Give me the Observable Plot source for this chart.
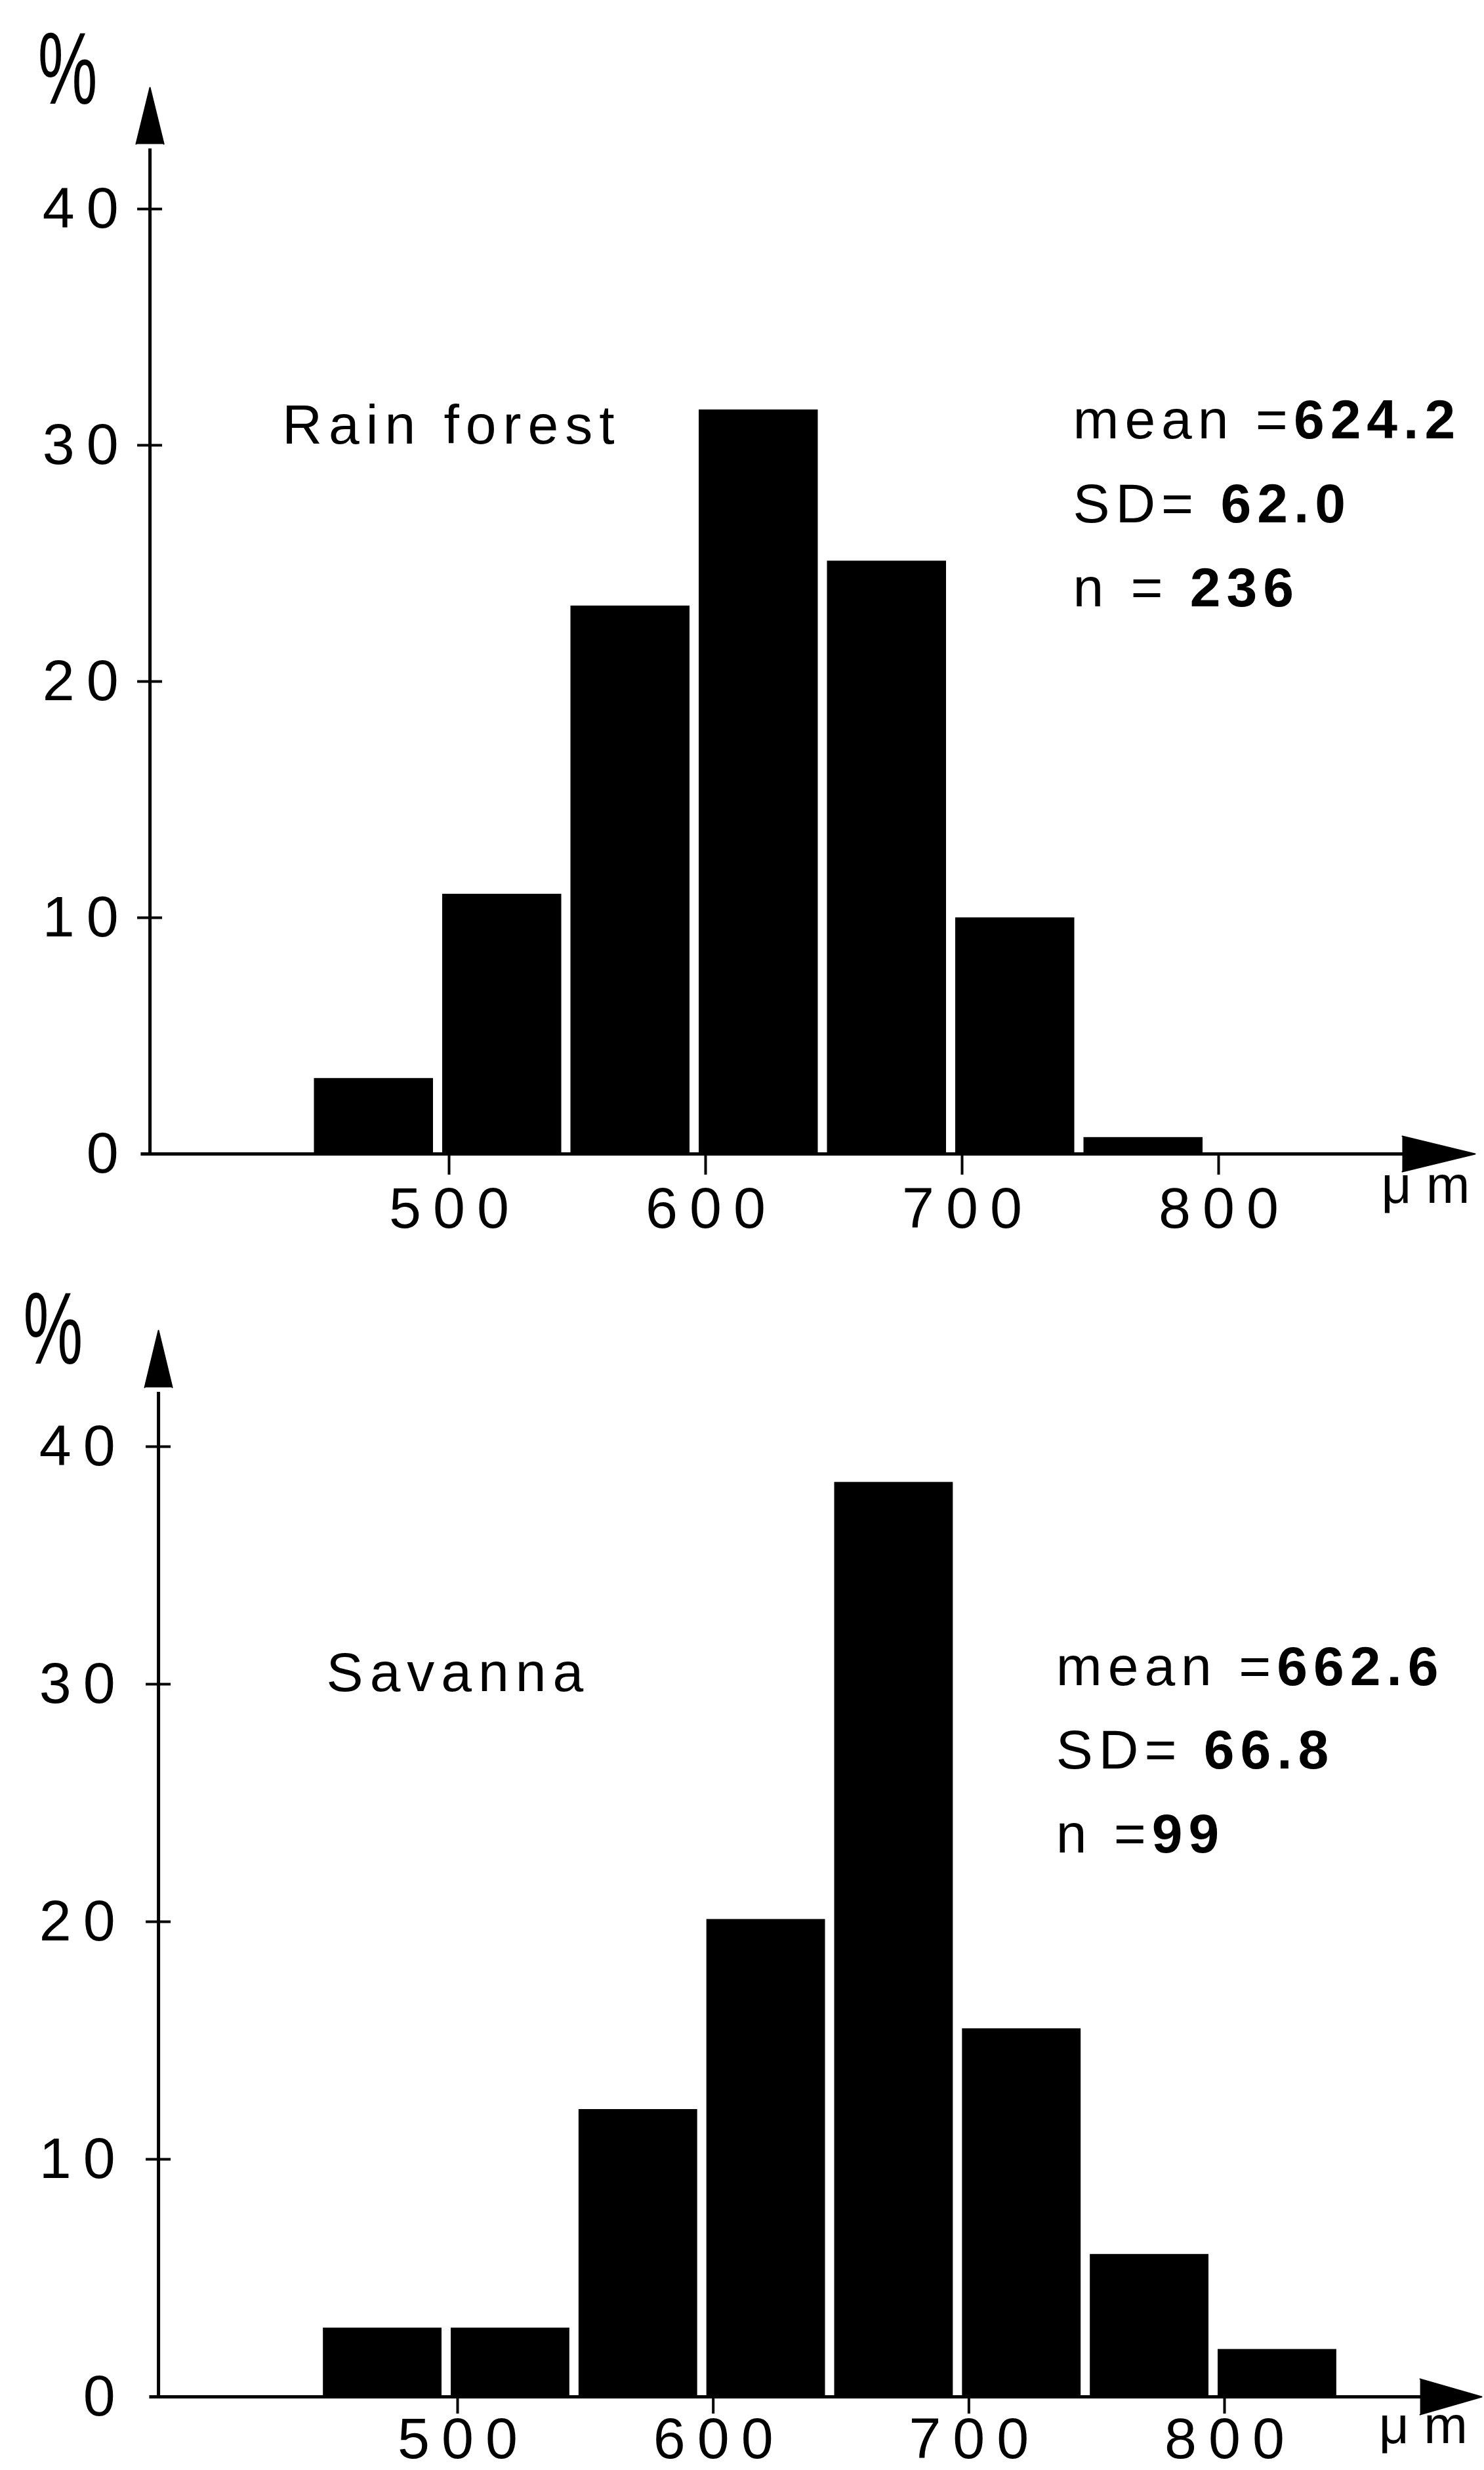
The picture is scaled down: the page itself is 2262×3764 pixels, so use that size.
<!DOCTYPE html>
<html>
<head>
<meta charset="utf-8">
<script src="https://cdn.jsdelivr.net/npm/d3@7"></script>
<script src="https://cdn.jsdelivr.net/npm/@observablehq/plot@0.6"></script>
<style>
  html, body { margin: 0; padding: 0; background: #fff; }
  #chart svg { display: block; }
  g[aria-label="x-axis tick label"] text,
  g[aria-label="y-axis tick label"] text { letter-spacing: 18px; }
  g[aria-description="panel title"] text { letter-spacing: 10px; }
  g[aria-description="stats"] text { letter-spacing: 9px; }
</style>
</head>
<body>
<div id="chart"></div>
<script>
// ---------------- data ----------------
const binWidth = 50;
const xDomain = [500, 800];
const yDomain = [0, 40];
const xTicks = [500, 600, 700, 800];
const yTicks = [0, 10, 20, 30, 40];
const yCrossTicks = [10, 20, 30, 40];

const rainTitle = "Rain forest";
const rainBins = [450, 500, 550, 600, 650, 700, 750];
const rainPct  = [3.2, 11.0, 23.2, 31.5, 25.1, 10.0, 0.7];
const rainStatLabels = ["mean =", "SD= ", "n = "];
const rainStatValues = ["624.2", "62.0", "236"];

const savTitle = "Savanna";
const savBins = [450, 500, 550, 600, 650, 700, 750, 800];
const savPct  = [2.9, 2.9, 12.1, 20.1, 38.5, 15.5, 6.0, 2.0];
const savStatLabels = ["mean =", "SD= ", "n ="];
const savStatValues = ["662.6", "66.8", "99"];

const yUnit = "%";
const xUnit = "\u03bc m";

// ---------------- layout (pixels / anchor positions in scale units) ----------------
const W = 2262, H = 1882;
const FONT = "'Liberation Sans', Arial, Helvetica, sans-serif";

const topLayout = {
  xRange: [684, 1857], yRange: [1758, 318],
  axisAt: 383.4, xArrowBase: 871.6, xArrowTip: 900, xArrowHalf: 0.75,
  yArrowBase: 42.75, yArrowTip: 45.14, yArrowHalf: 5.4,
  pctAt: [351.4, 45.83], titleAt: [435.0, 30.08],
  statsAt: [743.2, 30.28], statsStep: 3.55, unitAt: [863.4, -2.06],
  xTickSize: 32, xLabelPad: 18, yLabelPad: 30
};
const bottomLayout = {
  xRange: [697, 1866], yRange: [1770, 322],
  axisAt: 383.0, xArrowBase: 876.5, xArrowTip: 900.6, xArrowHalf: 0.75,
  yArrowBase: 42.49, yArrowTip: 44.89, yArrowHalf: 5.4,
  pctAt: [341.9, 44.86], titleAt: [448.7, 29.72],
  statsAt: [734.1, 29.97], statsStep: 3.53, unitAt: [860.4, -1.95],
  xTickSize: 26, xLabelPad: 5, yLabelPad: 48
};

const NS = "http://www.w3.org/2000/svg";

function panel(title, bins, pct, statLabels, statValues, L) {
  const kx = (L.xRange[1] - L.xRange[0]) / (xDomain[1] - xDomain[0]);
  const marginLeft = L.xRange[0] + (L.axisAt - xDomain[0]) * kx;
  const marginBottom = H - L.yRange[0];
  const bars = bins.map((b, i) => ({lo: b, hi: b + binWidth, pct: pct[i]}));
  const stats = statLabels.map((l, i) => ({label: l, value: statValues[i], i}));
  const xArrow = [[L.xArrowBase, -L.xArrowHalf], [L.xArrowTip, 0], [L.xArrowBase, L.xArrowHalf]];
  const yArrow = [[L.axisAt - L.yArrowHalf, L.yArrowBase], [L.axisAt, L.yArrowTip], [L.axisAt + L.yArrowHalf, L.yArrowBase]];

  const svg = Plot.plot({
    width: W, height: H,
    marginLeft, marginBottom, marginTop: 0, marginRight: 0,
    style: {fontFamily: FONT, fontSize: "88px", color: "black", background: "white", overflow: "visible"},
    x: {domain: xDomain, range: L.xRange, label: null},
    y: {domain: yDomain, range: L.yRange, label: null},
    marks: [
      Plot.rect(bars, {x1: "lo", x2: "hi", y1: 0, y2: "pct", fill: "black", dx: -10, insetRight: 14}),
      Plot.ruleY([0], {x1: () => L.axisAt - 3.5, x2: () => L.xArrowBase + 2, stroke: "black", strokeWidth: 5}),
      Plot.ruleX([L.axisAt], {y1: () => 0, y2: () => L.yArrowBase - 0.2, stroke: "black", strokeWidth: 5}),
      Plot.line(xArrow, {x: d => d[0], y: d => d[1], fill: "black", stroke: "black", strokeWidth: 2}),
      Plot.line(yArrow, {x: d => d[0], y: d => d[1], fill: "black", stroke: "black", strokeWidth: 2}),
      Plot.axisX({ticks: xTicks, tickSize: L.xTickSize, tickFormat: () => "", strokeWidth: 4, label: null}),
      Plot.axisX({ticks: xTicks, tickSize: 0, tickPadding: L.xTickSize + L.xLabelPad, fontSize: 88, dx: 9, label: null}),
      Plot.axisY({ticks: yCrossTicks, tickSize: 38, dx: 19, tickFormat: () => "", strokeWidth: 4, label: null}),
      Plot.axisY({ticks: yTicks, tickSize: 0, tickPadding: L.yLabelPad, fontSize: 88, label: null}),
      Plot.text([title], {x: () => L.titleAt[0], y: () => L.titleAt[1], text: d => d,
        textAnchor: "start", lineAnchor: "bottom", fontSize: 84, ariaDescription: "panel title"}),
      Plot.text(stats, {x: () => L.statsAt[0], y: d => L.statsAt[1] - d.i * L.statsStep,
        text: d => d.label + d.value, textAnchor: "start", lineAnchor: "bottom", fontSize: 84, ariaDescription: "stats"}),
      Plot.text([yUnit], {x: () => L.pctAt[0], y: () => L.pctAt[1], text: d => d,
        textAnchor: "middle", lineAnchor: "middle", fontSize: 120, ariaDescription: "y unit"}),
      Plot.text([xUnit], {x: () => L.unitAt[0], y: () => L.unitAt[1], text: d => d,
        textAnchor: "start", lineAnchor: "bottom", fontSize: 80, ariaDescription: "x unit"})
    ]
  });

  // numbers of the statistics in bold
  svg.querySelectorAll('g[aria-description="stats"] text').forEach((t, k) => {
    const r = stats[k];
    if (!r) return;
    t.textContent = "";
    const a = document.createElementNS(NS, "tspan");
    a.textContent = r.label;
    const b = document.createElementNS(NS, "tspan");
    b.setAttribute("font-weight", "bold");
    b.textContent = r.value;
    t.append(a, b);
  });
  // tall, narrow percent sign: place it through the plot's own scales, then stretch
  const sx = svg.scale("x"), sy = svg.scale("y");
  const px = sx.apply(L.pctAt[0]), py = sy.apply(L.pctAt[1]);
  svg.querySelectorAll('g[aria-description="y unit"] text').forEach(t => {
    t.removeAttribute("x");
    t.setAttribute("y", "0.32em");
    t.setAttribute("transform", `translate(${px},${py}) scale(0.85,1.3)`);
  });
  svg.querySelectorAll('g[aria-description="y unit"]').forEach(g => g.removeAttribute("transform"));
  return svg;
}

const root = document.getElementById("chart");
root.append(panel(rainTitle, rainBins, rainPct, rainStatLabels, rainStatValues, topLayout));
root.append(panel(savTitle, savBins, savPct, savStatLabels, savStatValues, bottomLayout));
</script>
</body>
</html>
